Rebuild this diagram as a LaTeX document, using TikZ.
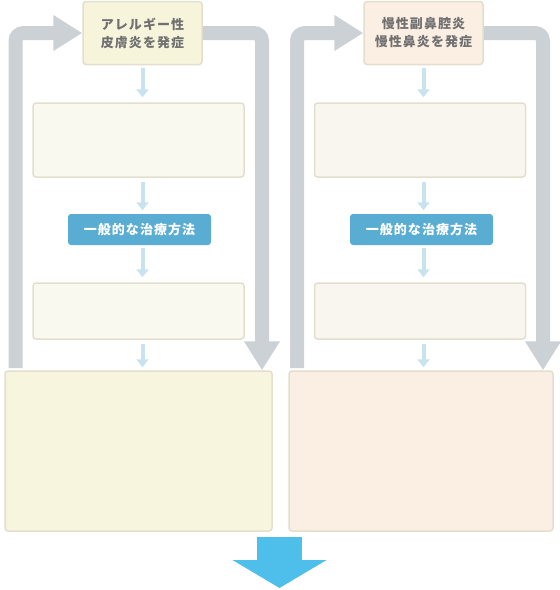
\documentclass[tikz,border=0pt]{standalone}
\usepackage{fontspec}
\newfontfamily\jpfont[LetterSpace=8]{Noto Sans CJK JP}
\usetikzlibrary{positioning, arrows.meta}

\definecolor{grayloop}{HTML}{CBD1D4}
\definecolor{thinblue}{HTML}{C8E2EE}
\definecolor{labelblue}{HTML}{5AADD2}
\definecolor{bigblue}{HTML}{4DBFEA}
\definecolor{boxline}{HTML}{E2DFCE}
\definecolor{textgray}{HTML}{707070}
\definecolor{yellowtop}{HTML}{F7F4DC}
\definecolor{yellowmid}{HTML}{FAF9EF}
\definecolor{yellowbig}{HTML}{F7F5DE}
\definecolor{peachtop}{HTML}{FBEFE3}
\definecolor{peachmid}{HTML}{F9F6F0}
\definecolor{peachbig}{HTML}{FBEFE3}

\begin{document}
\begin{tikzpicture}[
  x=1pt, y=-1pt,
  every node/.style={rectangle,rounded corners=3pt,inner sep=0pt,line width=1.5pt,font=\jpfont\fontsize{13}{18}\selectfont},
  topbox/.style={draw=boxline,minimum width=119pt,minimum height=63pt,text=textgray,align=center,font=\jpfont\bfseries\fontsize{13}{18}\selectfont},
  midbox/.style={draw=boxline,minimum width=211pt},
  treatlabel/.style={fill=labelblue,minimum width=143pt,minimum height=31pt,text=white,font=\jpfont\bfseries\fontsize{13}{16}\selectfont},
  bigbox/.style={draw=boxline,minimum height=160pt},
  thinarrow/.style={draw=thinblue,line width=4pt,-{Triangle[width=12pt,length=8pt]}},
  grayarrow/.style={draw=grayloop,line width=14pt,rounded corners=8pt,-{Triangle[width=34pt,length=29pt]}},
  bigarrow/.style={draw=bigblue,line width=45pt,-{Triangle[width=93pt,length=28pt]}}
]
\useasboundingbox (0,0) rectangle (560,590);

% Left column
\node[topbox,fill=yellowtop] (a1) at (142.5,33) {アレルギー性\\皮膚炎を発症};
\node[midbox,fill=yellowmid,minimum height=74pt] (a2) at (138.5,140) {};
\node[treatlabel] (a3) at (139.5,229.5) {一般的な治療方法};
\node[midbox,fill=yellowmid,minimum height=56pt] (a4) at (138.5,311) {};
\node[bigbox,fill=yellowbig,minimum width=267pt] (a5) at (138.5,451) {};

\draw[thinarrow,shorten <=3pt,shorten >=5pt] (a1.south) -- (a1.south |- a2.north);
\draw[thinarrow,shorten <=4pt,shorten >=3pt] (a1.south |- a2.south) -- (a1.south |- a3.north);
\draw[thinarrow,shorten <=2pt,shorten >=5pt] (a1.south |- a3.south) -- (a1.south |- a4.north);
\draw[thinarrow,shorten <=4pt,shorten >=3pt] (a1.south |- a4.south) -- (a1.south |- a5.north);

% Left loop
\coordinate (a-out) at (15.5,368);
\coordinate (a-turn) at (262,33);
\draw[grayarrow] (a-out) |- (a1.west);
\draw[grayarrow] (a1.east) -| (a5.north -| a-turn);

% Right column
\node[topbox,fill=peachtop] (b1) at (423.5,33) {慢性副鼻腔炎\\慢性鼻炎を発症};
\node[midbox,fill=peachmid,minimum height=74pt] (b2) at (420,140) {};
\node[treatlabel] (b3) at (421.5,229.5) {一般的な治療方法};
\node[midbox,fill=peachmid,minimum height=56pt] (b4) at (420,311) {};
\node[bigbox,fill=peachbig,minimum width=264pt] (b5) at (421,451) {};

\draw[thinarrow,shorten <=3pt,shorten >=5pt] (b1.south) -- (b1.south |- b2.north);
\draw[thinarrow,shorten <=4pt,shorten >=3pt] (b1.south |- b2.south) -- (b1.south |- b3.north);
\draw[thinarrow,shorten <=2pt,shorten >=5pt] (b1.south |- b3.south) -- (b1.south |- b4.north);
\draw[thinarrow,shorten <=4pt,shorten >=3pt] (b1.south |- b4.south) -- (b1.south |- b5.north);

% Right loop
\coordinate (b-out) at (297,368);
\coordinate (b-turn) at (543,33);
\draw[grayarrow] (b-out) |- (b1.west);
\draw[grayarrow] (b1.east) -| (b5.north -| b-turn);

% Arrow below both
\coordinate (down-start) at (279.5,537);
\coordinate (down-end) at (279.5,588);
\draw[bigarrow] (down-start) -- (down-end);

\end{tikzpicture}
\end{document}
